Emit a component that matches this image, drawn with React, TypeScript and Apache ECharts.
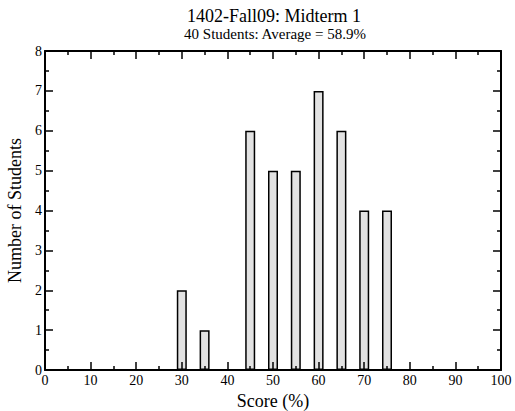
import React, { useEffect, useRef } from "react";
import * as echarts from "echarts";

const titleText = "1402-Fall09: Midterm 1";
const subtitleText = "40 Students: Average = 58.9%";
const scores = [30, 35, 45, 50, 55, 60, 65, 70, 75];
const counts = [2, 1, 6, 5, 5, 7, 6, 4, 4];
const xAxisName = "Score (%)";
const yAxisName = "Number of Students";

const FONT = "Liberation Serif";

export default function App() {
  const ref = useRef<HTMLDivElement>(null);
  useEffect(() => {
    if (!ref.current) return;
    const chart = echarts.init(ref.current, undefined, { renderer: "svg" });
    const axisLine = { show: true, onZero: false, lineStyle: { color: "#000", width: 2 } };
    const tick = { show: true, inside: true, length: 8, lineStyle: { color: "#000", width: 1.5 } };
    const minor = { show: true, splitNumber: 2, length: 4, lineStyle: { color: "#000", width: 1.5 } };
    chart.setOption({
      animation: false,
      backgroundColor: "#fff",
      textStyle: { fontFamily: FONT },
      title: [
        {
          text: titleText,
          left: 274,
          textAlign: "center",
          top: 8,
          padding: 0,
          textStyle: {
            fontFamily: FONT,
            fontSize: 18,
            lineHeight: 16,
            fontWeight: "normal",
            color: "#000",
          },
        },
        {
          text: subtitleText,
          left: 275,
          textAlign: "center",
          top: 27.5,
          padding: 0,
          textStyle: {
            fontFamily: FONT,
            fontSize: 15,
            lineHeight: 13,
            fontWeight: "normal",
            color: "#000",
          },
        },
      ],
      grid: { left: 45, right: 14, top: 51, bottom: 41, containLabel: false, outerBoundsMode: "none" },
      xAxis: [
        {
          type: "value",
          min: 0,
          max: 100,
          interval: 10,
          position: "bottom",
          z: 5,
          name: xAxisName,
          nameLocation: "middle",
          nameGap: 19,
          nameTextStyle: { fontFamily: FONT, fontSize: 18, color: "#000" },
          axisLine,
          axisTick: tick,
          minorTick: minor,
          splitLine: { show: false },
          axisLabel: { fontFamily: FONT, fontSize: 14, color: "#000", margin: 3 },
        },
        {
          type: "value",
          min: 0,
          max: 100,
          interval: 10,
          position: "top",
          z: 5,
          axisLine,
          axisTick: tick,
          minorTick: minor,
          splitLine: { show: false },
          axisLabel: { show: false },
        },
      ],
      yAxis: [
        {
          type: "value",
          min: 0,
          max: 8,
          interval: 1,
          position: "left",
          z: 5,
          name: yAxisName,
          nameLocation: "middle",
          nameGap: 17,
          nameTextStyle: { fontFamily: FONT, fontSize: 18, color: "#000" },
          axisLine,
          axisTick: tick,
          minorTick: minor,
          splitLine: { show: false },
          axisLabel: {
            fontFamily: FONT,
            fontSize: 14,
            color: "#000",
            margin: 3,
            padding: [4, 0, 0, 0],
          },
        },
        {
          type: "value",
          min: 0,
          max: 8,
          interval: 1,
          position: "right",
          z: 5,
          axisLine,
          axisTick: tick,
          minorTick: minor,
          splitLine: { show: false },
          axisLabel: { show: false },
        },
      ],
      series: [
        {
          type: "bar",
          xAxisIndex: 0,
          yAxisIndex: 0,
          barWidth: 10,
          z: 1,
          data: scores.map((s, i) => [s, counts[i]]),
          itemStyle: { color: "#e2e2e2", borderColor: "#000", borderWidth: 1.5 },
        },
      ],
    });
    return () => chart.dispose();
  }, []);
  return (
    <div
      ref={ref}
      style={{ position: "absolute", left: 0, top: 0, width: 515, height: 411 }}
    />
  );
}
